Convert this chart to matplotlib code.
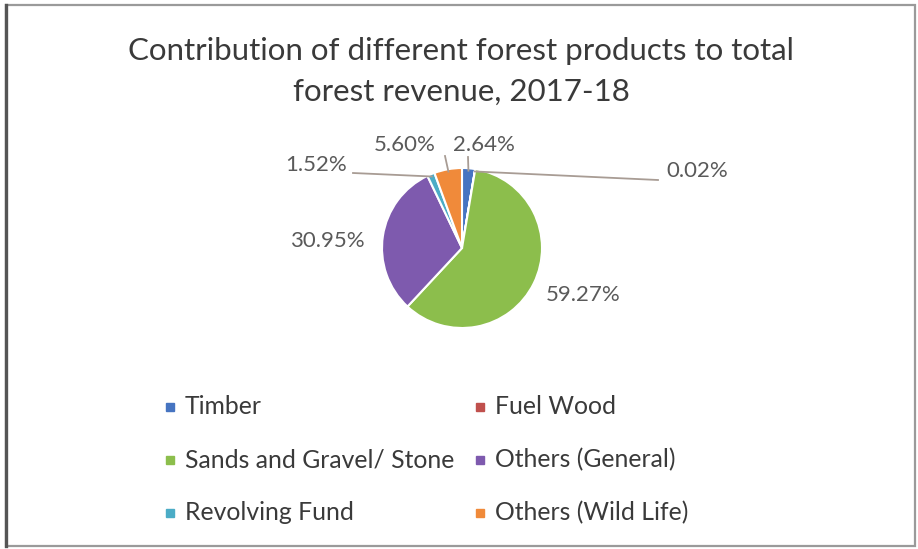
import numpy as np
import matplotlib.pyplot as plt
from matplotlib.lines import Line2D
from matplotlib.patches import Rectangle

products = ["Timber", "Fuel Wood", "Sands and Gravel/ Stone",
            "Others (General)", "Revolving Fund", "Others (Wild Life)"]
shares = [2.64, 0.02, 59.27, 30.95, 1.52, 5.60]
colors = ["#4674C1", "#C0504D", "#8CBE4C", "#7E5AAE", "#4BACC6", "#F08A3A"]

# label centres and leader-line start points, in pixels from the top-left
label_pos = [(484, 145), (697, 171), (583, 295), (327, 241), (316, 165), (405, 145)]
leader_from = [(468, 157), (658, 180), None, None, (353, 173), (445, 156)]

W, H = 918, 549
fig = plt.figure(figsize=(W / 100, H / 100), dpi=100)
fig.patch.set_facecolor("white")

# chart frame
fig.add_artist(Rectangle((6 / W, 1 - 546 / H), 909 / W, 541 / H, transform=fig.transFigure,
                         fill=False, edgecolor="#9a9a9a", linewidth=1.6))
fig.add_artist(Line2D([6 / W, 6 / W], [1 - 546 / H, 1 - 5 / H], transform=fig.transFigure,
                      color="#555555", linewidth=2.4))

title_kw = dict(ha="center", va="center", fontsize=22.5, color="#3a3a3a", family="Lato")
fig.text(461 / W, 1 - 51 / H, "Contribution of different forest products to total", **title_kw)
fig.text(461 / W, 1 - 92 / H, "forest revenue, 2017-18", **title_kw)

# pie axes: centre (462, 248), radius 80 px
cx, cy, r = 462, 248, 80
ax = fig.add_axes([(cx - r) / W, 1 - (cy + r) / H, 2 * r / W, 2 * r / H])
wedges, _ = ax.pie(shares, colors=colors, startangle=90, counterclock=False, radius=1,
                   wedgeprops=dict(edgecolor="white", linewidth=1.5))
ax.set_xlim(-1, 1)
ax.set_ylim(-1, 1)
ax.set_aspect("equal")
ax.axis("off")


def px(x, y):
    return ((x - cx) / r, (cy - y) / r)


for w, val, lp, lf in zip(wedges, shares, label_pos, leader_from):
    if lf is not None:
        mid = np.deg2rad((w.theta1 + w.theta2) / 2)
        tip = (0.97 * np.cos(mid), 0.97 * np.sin(mid))
        start = px(*lf)
        ax.plot([start[0], tip[0]], [start[1], tip[1]], color="#a89c94", linewidth=1.3,
                clip_on=False)
    ax.text(*px(*lp), f"{val:.2f}%", ha="center", va="center", fontsize=16,
            color="#5a5a5a", family="Lato", clip_on=False)

# legend, two entries per row
col_x = [170, 480]
row_y = [407, 460, 513]
for i, (name, c) in enumerate(zip(products, colors)):
    x, y = col_x[i % 2], row_y[i // 2]
    fig.add_artist(Line2D([x / W], [1 - y / H], transform=fig.transFigure, marker="s",
                          markersize=6, color=c, linestyle="none"))
    fig.text((x + 15) / W, 1 - y / H, name, ha="left", va="center", fontsize=17.8,
             color="#3a3a3a", family="Lato")

fig.savefig("out.png", dpi=100)
